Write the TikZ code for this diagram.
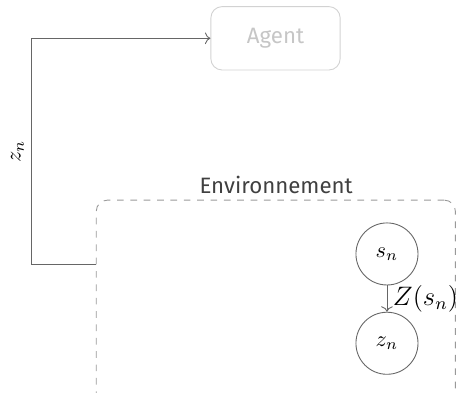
\documentclass[tikz,border=0pt]{standalone}
\usepackage{fontspec}
\setsansfont{Fira Sans}
\usetikzlibrary{positioning,calc,arrows.meta}

\begin{document}
\begin{tikzpicture}[
    agentbox/.style={rectangle, draw=gray!35, rounded corners=5pt, minimum width=2.04cm, minimum height=1cm, text=gray!45, font=\sffamily},
    envbox/.style={rectangle, draw=gray!80, dashed, rounded corners=5pt, minimum width=5.67cm, minimum height=3.4cm},
    state/.style={circle, draw=gray!80!black, minimum size=0.98cm, inner sep=0pt},
    arrow/.style={->, draw=gray!80!black, >=To}
]
\useasboundingbox (0,0) rectangle (7.2,6.19);

% Components
\node[agentbox] (agent) at (4.35,5.585) {Agent};
\node[envbox] (env) at (4.355,1.33) {};
\node[font=\sffamily, text=black!75] (envlabel) at (4.36,3.27) {Environnement};

% States
\node[state] (sn) at (6.11,2.18) {$s_n$};
\node[state] (zn) at (6.11,0.77) {$z_n$};
\draw[arrow] (sn) -- node[right, inner sep=2.5pt, font=\large] {$Z(s_n)$} (zn);

% Observation back to the agent
\coordinate (envout) at (env.west |- 0,2.01);
\draw[arrow] (envout) -- ++(-1.01,0) |- node[pos=0.25, above, rotate=90] {$z_n$} (agent.west);

\end{tikzpicture}
\end{document}
